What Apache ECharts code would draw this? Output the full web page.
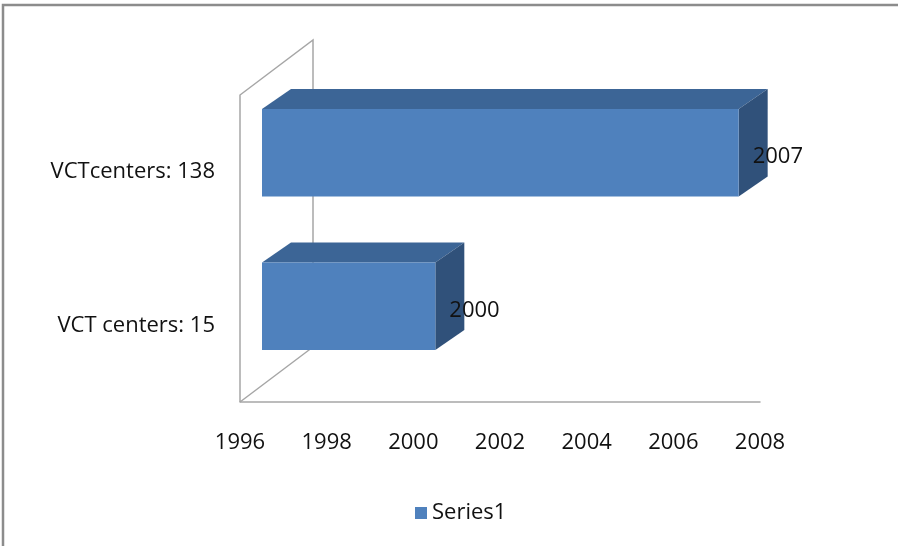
<!DOCTYPE html>
<html>
<head>
<meta charset="utf-8">
<script src="https://cdn.jsdelivr.net/npm/echarts@6/dist/echarts.min.js"></script>
<style>
  html, body { margin: 0; padding: 0; background: #fff; }
  #chart { width: 898px; height: 546px; }
</style>
</head>
<body>
<div id="chart"></div>
<script>
// Categories (bottom to top) and the year shown on each bar
const categories = ['VCT centers: 15', 'VCTcenters: 138'];
const years = [2000, 2007];
const seriesName = 'Series1';
const axisMin = 1996, axisMax = 2008, axisStep = 2;

const FONT = '"Open Sans", "Liberation Sans", sans-serif';
const WALL = '#a6a6a6';
// 3D look: where the bar front face sits relative to the axis plane,
// how deep each box is, and where the back wall lies
const FACE_DX = 22, FACE_DY = -19;
const DEPTH_DX = 29, DEPTH_DY = -20;
const WALL_DX = 73, WALL_DY = -55;

const chart = echarts.init(document.getElementById('chart'), null, { renderer: 'canvas' });

function renderWalls(params, api) {
  const cs = params.coordSys;
  const x0 = cs.x, y0 = cs.y, y1 = cs.y + cs.height;
  return {
    type: 'polyline',
    shape: { points: [[x0, y1], [x0, y0], [x0 + WALL_DX, y0 + WALL_DY], [x0 + WALL_DX, y1 + WALL_DY], [x0, y1]] },
    style: { stroke: WALL, lineWidth: 1.5, fill: null },
    silent: true
  };
}

function renderBar(params, api) {
  const idx = api.value(1);
  const val = api.value(0);
  const start = api.coord([axisMin, idx]);
  const end = api.coord([val, idx]);
  const h = api.size([0, 1])[1] * 0.57;
  const xL = start[0] + FACE_DX, xR = end[0] + FACE_DX;
  const cy = start[1] + FACE_DY;
  const top = cy - h / 2, bot = cy + h / 2;
  return {
    type: 'group',
    children: [
      { type: 'polygon', shape: { points: [[xL, top], [xL + DEPTH_DX, top + DEPTH_DY], [xR + DEPTH_DX, top + DEPTH_DY], [xR, top]] },
        style: { fill: '#3c6596' } },
      { type: 'polygon', shape: { points: [[xR, top], [xR + DEPTH_DX, top + DEPTH_DY], [xR + DEPTH_DX, bot + DEPTH_DY], [xR, bot]] },
        style: { fill: '#30517a' } },
      { type: 'rect', shape: { x: xL, y: top, width: xR - xL, height: h },
        style: { fill: '#4f81bd' } },
      { type: 'text', x: xR + 14, y: cy + 4,
        style: { text: String(val), fill: '#111', font: '22px ' + FONT, textAlign: 'left', textVerticalAlign: 'middle' } }
    ]
  };
}

chart.setOption({
  animation: false,
  backgroundColor: '#fff',
  textStyle: { fontFamily: FONT },
  graphic: [
    { type: 'polyline', shape: { points: [[3, 546], [3, 5], [898, 5]] },
      style: { stroke: '#8c8c8c', lineWidth: 2.5, fill: null } }
  ],
  grid: { left: 240, right: 138, top: 95, bottom: 144 },
  xAxis: {
    type: 'value', min: axisMin, max: axisMax, interval: axisStep,
    axisLine: { show: true, lineStyle: { color: WALL, width: 1.5 } },
    axisTick: { show: false },
    splitLine: { show: false },
    axisLabel: { color: '#111', fontSize: 22, fontFamily: FONT, margin: 30,
                 formatter: (v) => String(v) }
  },
  yAxis: {
    type: 'category', data: categories,
    axisLine: { show: false },
    axisTick: { show: false },
    splitLine: { show: false },
    axisLabel: { color: '#111', fontSize: 22, fontFamily: FONT, margin: 25 }
  },
  legend: {
    data: [seriesName], left: 410, top: 497,
    icon: 'rect', itemWidth: 12, itemHeight: 12, itemGap: 10,
    textStyle: { color: '#111', fontSize: 22, fontFamily: FONT }
  },
  series: [
    { type: 'custom', name: 'walls', renderItem: renderWalls, data: [[axisMin, 0]], silent: true, z: 1 },
    { type: 'custom', name: seriesName, renderItem: renderBar,
      itemStyle: { color: '#4f81bd' },
      encode: { x: 0, y: 1 },
      data: years.map((y, i) => [y, i]), z: 2 }
  ]
});
</script>
</body>
</html>
